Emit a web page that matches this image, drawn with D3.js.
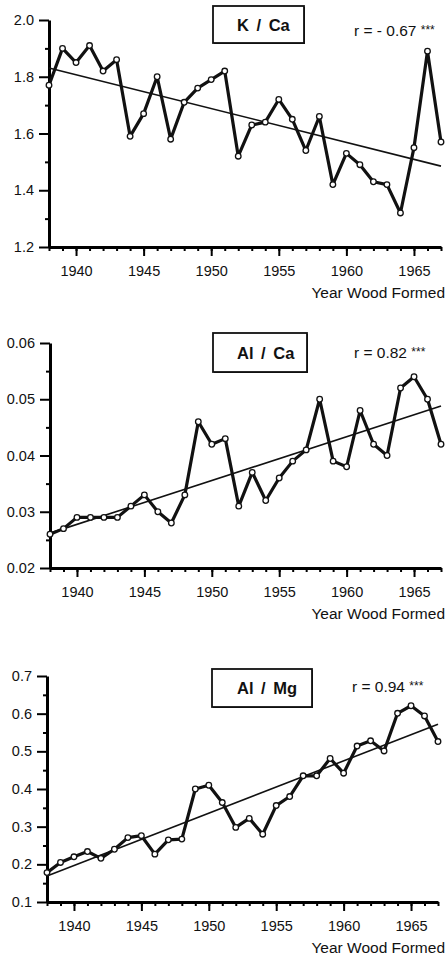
<!DOCTYPE html>
<html lang="en">
<head>
  <meta charset="UTF-8">
  <title>Wood ratios</title>
  <style>
    body { margin: 0; background: #fff; }
    svg { display: block; }
    text { font-family: "Liberation Sans", Arial, sans-serif; fill: #111; }
  </style>
</head>
<body>
  <script src="https://cdn.jsdelivr.net/npm/d3@7/dist/d3.min.js"></script>
  <script>
    'use strict';

    // --- data ---
    const years = [1938, 1939, 1940, 1941, 1942, 1943, 1944, 1945, 1946, 1947,
                   1948, 1949, 1950, 1951, 1952, 1953, 1954, 1955, 1956, 1957,
                   1958, 1959, 1960, 1961, 1962, 1963, 1964, 1965, 1966, 1967];

    const kCa = [1.77, 1.90, 1.85, 1.91, 1.82, 1.86, 1.59, 1.67, 1.80, 1.58,
                 1.71, 1.76, 1.79, 1.82, 1.52, 1.63, 1.64, 1.72, 1.65, 1.54,
                 1.66, 1.42, 1.53, 1.49, 1.43, 1.42, 1.32, 1.55, 1.89, 1.57];

    const alCa = [0.026, 0.027, 0.029, 0.029, 0.029, 0.029, 0.031, 0.033, 0.030, 0.028,
                  0.033, 0.046, 0.042, 0.043, 0.031, 0.037, 0.032, 0.036, 0.039, 0.041,
                  0.050, 0.039, 0.038, 0.048, 0.042, 0.040, 0.052, 0.054, 0.050, 0.042];

    const alMg = [0.178, 0.205, 0.220, 0.234, 0.216, 0.240, 0.271, 0.276, 0.227, 0.265,
                  0.267, 0.400, 0.410, 0.364, 0.298, 0.322, 0.280, 0.356, 0.380, 0.435,
                  0.435, 0.481, 0.442, 0.514, 0.528, 0.501, 0.601, 0.621, 0.594, 0.526];

    // fitted line values at 1938 and 1967
    const kCaTrend = [1.831, 1.485];
    const alCaTrend = [0.0262, 0.0488];
    const alMgTrend = [0.169, 0.572];

    const titles = ['K / Ca', 'Al / Ca', 'Al / Mg'];
    const rLabels = ['r = - 0.67', 'r = 0.82', 'r = 0.94'];
    const stars = '***';
    const xLabel = 'Year Wood Formed';

    const xTicks = [1940, 1945, 1950, 1955, 1960, 1965];
    const kCaTicks = [1.2, 1.4, 1.6, 1.8, 2.0];
    const kCaMinor = [1.3, 1.5, 1.7, 1.9];
    const alCaTicks = [0.02, 0.03, 0.04, 0.05, 0.06];
    const alCaMinor = [0.025, 0.035, 0.045, 0.055];
    const alMgTicks = [0.1, 0.2, 0.3, 0.4, 0.5, 0.6, 0.7];
    const alMgMinor = [0.15, 0.25, 0.35, 0.45, 0.55, 0.65];

    // --- layout ---
    const width = 448;
    const height = 956;

    const layout = [
      { left: 49, right: 441, top: 20, bottom: 247, box: [213, 6, 91, 37], rX: 354, rY: 31 },
      { left: 50, right: 441, top: 343, bottom: 568, box: [213, 333, 94, 39], rX: 354, rY: 353 },
      { left: 47, right: 438, top: 676, bottom: 902, box: [212, 669, 100, 38], rX: 352, rY: 687 }
    ];

    const series = [
      { values: kCa, trend: kCaTrend, ticks: kCaTicks, minor: kCaMinor, fmt: d3.format('.1f') },
      { values: alCa, trend: alCaTrend, ticks: alCaTicks, minor: alCaMinor, fmt: d3.format('.2f') },
      { values: alMg, trend: alMgTrend, ticks: alMgTicks, minor: alMgMinor, fmt: d3.format('.1f') }
    ];

    const svg = d3.select('body')
      .append('svg')
      .attr('width', width)
      .attr('height', height);

    series.forEach((s, i) => {
      const L = layout[i];
      const g = svg.append('g');

      const x = d3.scaleLinear()
        .domain([years[0], years[years.length - 1]])
        .range([L.left, L.right]);

      const y = d3.scaleLinear()
        .domain(d3.extent(s.ticks))
        .range([L.bottom, L.top]);

      // minor ticks first
      g.append('g')
        .attr('transform', 'translate(' + L.left + ',0)')
        .call(d3.axisLeft(y).tickValues(s.minor).tickSize(4).tickSizeOuter(0).tickFormat(''))
        .call(a => a.select('.domain').remove())
        .call(a => a.selectAll('line').attr('stroke-width', 2));

      g.append('g')
        .attr('transform', 'translate(0,' + L.bottom + ')')
        .call(d3.axisBottom(x).tickValues(years).tickSize(4).tickSizeOuter(0).tickFormat(''))
        .call(a => a.select('.domain').remove())
        .call(a => a.selectAll('line').attr('stroke-width', 2));

      // major axes
      g.append('g')
        .attr('transform', 'translate(' + L.left + ',0)')
        .call(d3.axisLeft(y).tickValues(s.ticks).tickSize(10).tickSizeOuter(0).tickPadding(5).tickFormat(s.fmt))
        .call(a => a.select('.domain').attr('stroke-width', 3))
        .call(a => a.selectAll('line').attr('stroke-width', 2))
        .call(a => a.selectAll('text').attr('font-size', '14.5px').attr('font-family', null));

      g.append('g')
        .attr('transform', 'translate(0,' + L.bottom + ')')
        .call(d3.axisBottom(x).tickValues(xTicks).tickSize(9).tickSizeOuter(0).tickPadding(10).tickFormat(d3.format('d')))
        .call(a => a.select('.domain').attr('stroke-width', 3))
        .call(a => a.selectAll('line').attr('stroke-width', 2))
        .call(a => a.selectAll('text').attr('font-size', '14.5px').attr('font-family', null));

      g.append('text')
        .attr('x', 445)
        .attr('y', L.bottom + 51)
        .attr('text-anchor', 'end')
        .attr('font-size', '15.5px')
        .text(xLabel);

      // trend line
      g.append('line')
        .attr('x1', x(years[0]))
        .attr('y1', y(s.trend[0]))
        .attr('x2', x(years[years.length - 1]))
        .attr('y2', y(s.trend[1]))
        .attr('stroke', '#111')
        .attr('stroke-width', 1.6);

      // data line
      const line = d3.line()
        .x((d, j) => x(years[j]))
        .y(d => y(d));

      g.append('path')
        .datum(s.values)
        .attr('d', line)
        .attr('fill', 'none')
        .attr('stroke', '#111')
        .attr('stroke-width', 3.2)
        .attr('stroke-linejoin', 'round');

      g.selectAll('circle')
        .data(s.values)
        .enter()
        .append('circle')
        .attr('cx', (d, j) => x(years[j]))
        .attr('cy', d => y(d))
        .attr('r', 2.8)
        .attr('fill', '#fff')
        .attr('stroke', '#111')
        .attr('stroke-width', 1.3);

      // title box, a little heavier on the right and bottom
      const b = L.box;
      g.append('rect')
        .attr('x', b[0] + 1)
        .attr('y', b[1] + 1)
        .attr('width', b[2])
        .attr('height', b[3])
        .attr('fill', '#111');
      g.append('rect')
        .attr('x', b[0])
        .attr('y', b[1])
        .attr('width', b[2])
        .attr('height', b[3])
        .attr('fill', '#fff')
        .attr('stroke', '#111')
        .attr('stroke-width', 1.8);
      g.append('text')
        .attr('x', 237)
        .attr('y', b[1] + b[3] / 2 + 6)
        .attr('font-family', '"DejaVu Sans", sans-serif')
        .attr('font-weight', 'bold')
        .attr('font-size', '16.5px')
        .attr('word-spacing', '3px')
        .text(titles[i]);

      // correlation
      const r = g.append('text')
        .attr('x', L.rX)
        .attr('y', L.rY + 5)
        .attr('font-size', '15.5px');
      r.append('tspan').text(rLabels[i] + ' ');
      r.append('tspan').attr('font-size', '12px').attr('dy', -2).text(stars);
    });
  </script>
</body>
</html>
